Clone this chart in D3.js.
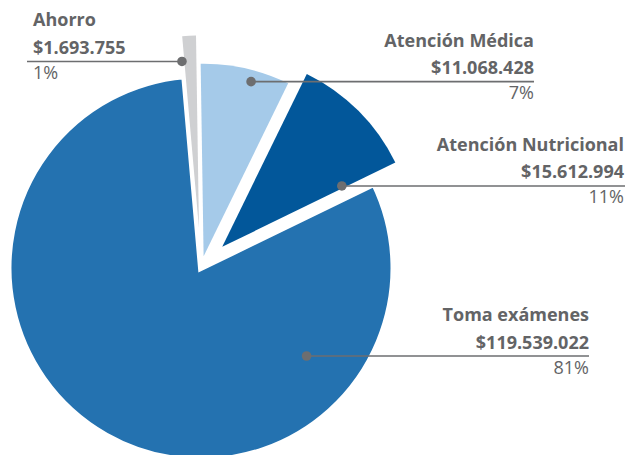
<!DOCTYPE html>
<html lang="es">
<head>
    <meta charset="UTF-8">
    <title>Distribución de gastos</title>
    <script src="https://d3js.org/d3.v7.min.js" charset="utf-8"></script>
    <style>
        body, html {
            margin: 0;
            padding: 0;
            background: #ffffff;
            overflow: hidden;
        }
        text {
            font-family: "Open Sans", sans-serif;
            font-size: 18px;
            fill: #636466;
        }
        .name, .amount {
            font-weight: 700;
        }
    </style>
</head>
<body>
    <svg id="chart"></svg>

    <script>
        // data
        const categories = ["Ahorro", "Atención Médica", "Atención Nutricional", "Toma exámenes"];
        const values = [1693755, 11068428, 15612994, 119539022];
        const colors = ["#cfd0d2", "#a5cae9", "#02579a", "#2472b0"];

        // SVG size
        const width = 626;
        const height = 455;

        // pie layout
        const cx = 201, cy = 268;
        const R = 192.5;
        const start = -5 * Math.PI / 180;

        // per slice styling: explode distance, white edge, dot placement [fraction of angle, fraction of radius]
        const explode = [40, 12, 30, 0];
        const edge = [0, 0, 0, 6];
        const dotAt = [[-0.2, 0.87], [0.597, 0.94], [0.973, 0.697], [0.226, 0.714]];
        const lineEnd = [27, 534, 625, 589];
        const textX = [33, 534, 624, 589];
        const anchor = ["start", "end", "end", "end"];

        const svg = d3.select("#chart")
            .attr("width", width)
            .attr("height", height);

        const total = d3.sum(values);
        const esLocale = d3.formatLocale({ decimal: ",", thousands: ".", grouping: [3], currency: ["$", ""] });
        const money = esLocale.format("$,.0f");

        const pie = d3.pie()
            .sort(null)
            .startAngle(start)
            .endAngle(start + 2 * Math.PI);

        const arcs = pie(values);

        const arc = d3.arc()
            .innerRadius(0)
            .outerRadius(R);

        function shift(d, i) {
            const a = (d.startAngle + d.endAngle) / 2;
            return [Math.sin(a) * explode[i], -Math.cos(a) * explode[i]];
        }

        const pieGroup = svg.append("g")
            .attr("transform", `translate(${cx},${cy})`);

        const slices = pieGroup.selectAll("path")
            .data(arcs)
            .join("path")
            .attr("transform", (d, i) => `translate(${shift(d, i)})`)
            .attr("d", arc)
            .attr("fill", (d, i) => colors[i])
            .attr("stroke", "#ffffff")
            .attr("stroke-width", (d, i) => edge[i])
            .attr("stroke-linejoin", "miter");

        // big slice goes underneath so the small ones sit on top of its white edge
        slices.filter((d, i) => edge[i] > 0).lower();

        // dot positions in screen coordinates
        const dots = arcs.map((d, i) => {
            const [t, f] = dotAt[i];
            const a = d.startAngle + t * (d.endAngle - d.startAngle);
            const [ox, oy] = shift(d, i);
            return [
                cx + Math.sin(a) * f * R + ox,
                cy - Math.cos(a) * f * R + oy
            ];
        });

        const labels = svg.append("g")
            .selectAll("g")
            .data(arcs)
            .join("g");

        labels.append("line")
            .attr("x1", (d, i) => dots[i][0])
            .attr("x2", (d, i) => lineEnd[i])
            .attr("y1", (d, i) => dots[i][1])
            .attr("y2", (d, i) => dots[i][1])
            .attr("stroke", "#6d6e70")
            .attr("stroke-width", 1.6);

        labels.append("circle")
            .attr("cx", (d, i) => dots[i][0])
            .attr("cy", (d, i) => dots[i][1])
            .attr("r", 4.8)
            .attr("fill", "#6d6e70");

        labels.append("text")
            .attr("class", "name")
            .attr("x", (d, i) => textX[i])
            .attr("y", (d, i) => dots[i][1] - 35)
            .attr("text-anchor", (d, i) => anchor[i])
            .text((d, i) => categories[i]);

        labels.append("text")
            .attr("class", "amount")
            .attr("x", (d, i) => textX[i])
            .attr("y", (d, i) => dots[i][1] - 7.5)
            .attr("text-anchor", (d, i) => anchor[i])
            .text(d => money(d.value));

        labels.append("text")
            .attr("class", "pct")
            .attr("x", (d, i) => textX[i])
            .attr("y", (d, i) => dots[i][1] + 17.5)
            .attr("text-anchor", (d, i) => anchor[i])
            .text(d => Math.round(d.value / total * 100) + "%");
    </script>
</body>
</html>
